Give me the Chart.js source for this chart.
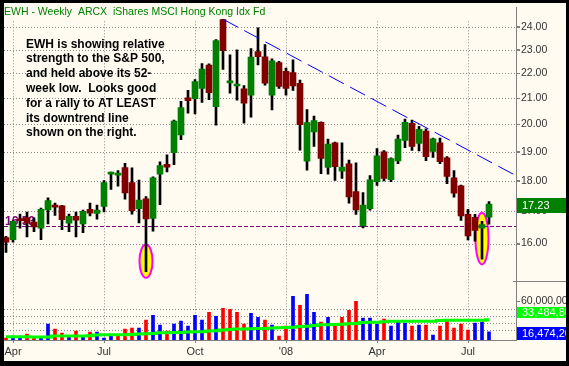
<!DOCTYPE html>
<html>
<head>
<meta charset="utf-8">
<script src="https://cdn.jsdelivr.net/npm/chart.js@4.4.0/dist/chart.umd.min.js"></script>
<style>
  html, body { margin: 0; padding: 0; background: #000; }
  #chart { display: block; }
</style>
</head>
<body>
<canvas id="chart" width="569" height="366"></canvas>
<script>
const FONT = 'Arial, "Liberation Sans", sans-serif';

// weekly bars, first week starts 2007-03-26
const opens = [16.18,16.12,16.77,16.80,16.66,16.47,17.04,17.20,17.17,16.62,
  16.84,16.60,17.06,16.93,17.15,18.22,18.19,18.45,17.94,17.08,
  17.40,16.77,18.22,18.56,18.97,19.61,21.02,20.99,21.39,22.35,
  20.67,24.33,21.61,21.49,21.38,21.12,22.92,22.70,21.12,22.45,
  22.09,22.04,21.60,18.67,19.72,20.08,18.45,19.32,18.32,18.58,
  17.64,16.54,17.08,17.97,19.00,18.03,18.68,19.41,20.04,19.30,
  19.75,19.01,19.32,18.79,18.10,17.83,16.90,16.81,16.47,16.81];
const highs = [16.22,16.70,16.91,16.97,16.79,17.10,17.43,17.26,17.19,16.91,
  16.97,17.04,17.26,17.20,18.00,18.29,18.34,18.59,18.44,18.02,
  17.47,18.13,18.65,18.89,20.16,20.88,21.32,21.75,22.41,22.40,
  23.44,24.35,22.78,22.99,21.51,23.05,23.96,23.22,22.61,22.50,
  22.22,22.57,21.73,20.56,20.31,20.10,19.46,19.35,19.32,18.71,
  18.61,17.60,18.17,19.11,19.04,18.79,19.60,20.20,20.16,19.93,
  19.83,19.49,19.49,18.83,18.34,17.85,17.06,16.90,16.68,17.31];
const lows = [15.74,16.04,16.47,16.20,16.36,16.12,16.60,16.87,16.42,16.36,
  16.20,16.33,16.85,16.75,16.98,17.71,17.82,17.39,16.91,16.63,
  15.18,16.38,17.21,18.30,18.55,19.44,20.42,20.40,20.84,20.95,
  19.97,22.17,21.20,20.93,20.05,20.27,22.35,21.52,20.55,21.39,
  21.12,21.31,19.06,18.36,19.19,18.24,18.22,18.01,18.08,17.26,
  16.90,16.48,17.03,17.84,17.99,17.97,18.58,19.15,19.05,19.03,
  18.69,18.80,18.58,17.90,17.45,16.71,16.11,16.07,15.54,16.59];
const closes = [16.04,16.68,16.70,16.62,16.51,17.06,17.34,17.13,16.73,16.84,
  16.72,17.00,16.94,17.04,17.94,18.29,18.26,17.59,17.02,17.36,
  16.76,18.10,18.52,18.46,20.12,20.64,20.91,21.67,22.18,21.22,
  23.40,22.96,21.70,21.56,20.81,22.68,22.70,21.60,22.53,21.47,
  21.39,21.49,19.99,20.07,20.14,18.77,19.28,18.48,18.46,17.46,
  17.04,17.20,18.03,18.86,18.08,18.76,19.46,20.08,19.19,19.82,
  18.83,19.47,18.65,18.14,17.58,16.85,16.23,16.40,16.58,17.23];
// volume in millions of shares
const volumes = [7.6,10.4,10.4,13.3,8.1,8.1,27.3,20.3,14.7,10.4,
  17.5,10.4,16.1,16.1,7.6,13.3,10.4,20.3,21.7,21.7,
  33.0,40.0,25.9,17.5,27.3,31.6,24.5,40.0,33.0,44.2,
  38.6,49.9,48.5,44.2,27.3,42.8,37.2,33.0,25.9,10.4,
  24.5,66.8,54.1,69.6,44.2,30.2,37.2,27.3,37.2,47.1,
  59.7,35.8,35.8,27.3,34.4,24.5,31.6,28.7,24.5,25.9,
  25.9,11.8,24.5,33.0,21.7,27.3,18.9,28.7,30.2,16.4742];
const volumeAvg = [9.5,9.5,9.5,9.5,9.0,9.0,9.0,10.4,10.4,10.4,
  10.4,10.4,10.9,11.8,12.3,12.3,12.3,12.3,12.8,13.3,
  13.7,14.2,15.1,15.1,15.6,15.6,16.1,16.5,16.5,17.5,
  17.9,18.9,19.8,20.3,20.3,20.8,21.2,21.2,21.7,22.2,
  22.6,23.1,24.0,24.5,25.5,26.4,26.4,26.9,27.3,27.8,
  28.3,29.7,30.2,30.2,30.6,31.6,31.6,31.6,31.6,31.6,
  31.6,31.6,32.5,33.0,33.0,33.0,33.0,33.0,33.0,33.4848];

const weeks = [];
for (let d = new Date(Date.UTC(2007, 2, 26)); weeks.length < closes.length; d.setUTCDate(d.getUTCDate() + 7)) {
  weeks.push(d.toISOString().slice(0, 10));
}
const tickWeeks = [1, 14, 27, 40, 53, 66];
const tickLabels = ['Apr', 'Jul', 'Oct', "'08", 'Apr', 'Jul'];
const priceTicks = [16, 17, 18, 19, 20, 21, 22, 23, 24];
const volumeGrid = [18.9, 28.9, 39.6, 49.4, 60];
const volumeLabelTick = 60;

const supportLevel = 16.53;
const trendAnchors = [{ week: 31, price: 24.35 }, { week: 58, price: 20.16 }];
const highlights = [{ week: 20, hi: 15.97, lo: 15.01 }, { week: 68, hi: 16.95, lo: 15.39 }];
const title = 'EWH - Weekly  ARCX  iShares MSCI Hong Kong Idx Fd';
const noteLines = [
  'EWH is showing relative',
  'strength to the S&P 500,',
  'and held above its 52-',
  'week low.  Looks good',
  'for a rally to AT LEAST',
  'its downtrend line',
  'shown on the right.'
];

const idx = closes.map((_, i) => i);
const upCandle = idx.map(i => closes[i] >= opens[i]);
const upVolume = idx.map(i => i === 0 ? upCandle[0] : closes[i] > closes[i - 1]);
const fmtShares = v => Math.round(v * 1e6).toLocaleString('en-US');

const GRID = '#8a8a8a';
const AXIS = '#808080';

const line = (ctx, x1, y1, x2, y2) => {
  ctx.beginPath();
  ctx.moveTo(x1, y1);
  ctx.lineTo(x2, y2);
  ctx.stroke();
};

const decor = {
  id: 'decor',
  beforeDraw(chart) {
    const { ctx, width, height } = chart;
    ctx.save();
    ctx.fillStyle = '#FFFBF0';
    ctx.fillRect(0, 0, width, height);
    ctx.restore();
  },
  beforeDatasetsDraw(chart) {
    const { ctx, chartArea: a, scales: { x, y, yv } } = chart;
    ctx.save();
    // dotted grid from the scales' ticks
    ctx.strokeStyle = GRID;
    ctx.lineWidth = 1;
    ctx.setLineDash([1, 2]);
    x.ticks.forEach(t => {
      const px = Math.round(x.getPixelForValue(t.value)) + 0.5;
      line(ctx, px, a.top + 14, px, a.bottom);
    });
    y.ticks.forEach(t => {
      const py = Math.round(y.getPixelForValue(t.value)) + 0.5;
      line(ctx, a.left, py, a.right, py);
    });
    yv.ticks.filter(t => t.value !== volumeLabelTick).forEach(t => {
      const py = Math.round(yv.getPixelForValue(t.value)) + 0.5;
      line(ctx, a.left, py, a.right, py);
    });
    ctx.setLineDash([]);
    // tick marks
    ctx.strokeStyle = AXIS;
    x.ticks.forEach(t => {
      const px = Math.round(x.getPixelForValue(t.value)) + 0.5;
      line(ctx, px, a.bottom, px, a.bottom + 3);
    });
    y.ticks.forEach(t => {
      const py = Math.round(y.getPixelForValue(t.value)) + 0.5;
      line(ctx, a.right, py, a.right + 4, py);
    });
    const vy = Math.round(yv.getPixelForValue(volumeLabelTick)) + 0.5;
    line(ctx, a.right, vy, a.right + 4, vy);

    // highlight ellipses behind the candles
    highlights.forEach(h => {
      const cx = x.getPixelForValue(h.week);
      const y1 = y.getPixelForValue(h.hi), y2 = y.getPixelForValue(h.lo);
      ctx.beginPath();
      ctx.ellipse(cx, (y1 + y2) / 2, 6.5, (y2 - y1) / 2, 0, 0, Math.PI * 2);
      ctx.fillStyle = '#FFFF00';
      ctx.fill();
      ctx.lineWidth = 2;
      ctx.strokeStyle = '#FF00FF';
      ctx.stroke();
    });
    // support line + label
    const sy = Math.round(y.getPixelForValue(supportLevel)) + 0.5;
    ctx.strokeStyle = '#800080';
    ctx.lineWidth = 1;
    ctx.setLineDash([4, 2]);
    line(ctx, a.left, sy, a.right, sy);
    ctx.setLineDash([]);
    ctx.fillStyle = '#800080';
    ctx.font = 'bold 12px ' + FONT;
    ctx.textBaseline = 'alphabetic';
    ctx.fillText(supportLevel.toFixed(2), a.left + 1, sy - 2);
    ctx.restore();
  },
  afterDatasetsDraw(chart) {
    const { ctx, chartArea: a, scales: { x, y } } = chart;
    const [p, q] = trendAnchors;
    const x1 = x.getPixelForValue(p.week), y1 = y.getPixelForValue(p.price);
    const x2 = x.getPixelForValue(q.week), y2 = y.getPixelForValue(q.price);
    const slope = (y2 - y1) / (x2 - x1);
    ctx.save();
    ctx.beginPath();
    ctx.rect(a.left, a.top, a.right - a.left, a.bottom - a.top);
    ctx.clip();
    ctx.strokeStyle = '#0000FF';
    ctx.lineWidth = 1;
    ctx.setLineDash([17, 7]);
    line(ctx, x1, y1, a.right, y1 + slope * (a.right - x1));
    ctx.restore();
  },
  afterDraw(chart) {
    const { ctx, chartArea: a, scales: { y, yv }, width, height } = chart;
    ctx.save();
    ctx.textBaseline = 'alphabetic';
    // title
    ctx.fillStyle = '#008000';
    ctx.font = '10.5px ' + FONT;
    ctx.fillText(title, 4, 14.5);
    // note
    ctx.fillStyle = '#000';
    ctx.font = 'bold 12px ' + FONT;
    noteLines.forEach((t, k) => ctx.fillText(t, 26, 47.5 + k * 14.8));

    // pane separator in the label column
    ctx.strokeStyle = AXIS;
    ctx.lineWidth = 1;
    line(ctx, a.right - 3, Math.round(y.bottom) + 0.5, width, Math.round(y.bottom) + 0.5);

    // last value boxes
    const box = (cy, h, bg, txt) => {
      ctx.fillStyle = bg;
      ctx.fillRect(a.right + 1, Math.round(cy - h / 2), width - a.right, h);
      ctx.fillStyle = '#FFFFFF';
      ctx.font = '11px ' + FONT;
      ctx.textBaseline = 'middle';
      ctx.fillText(txt, a.right + 6, cy + 0.5);
    };
    const last = closes.length - 1;
    box(y.getPixelForValue(closes[last]) + 1.5, 15, '#008000', closes[last].toFixed(2));
    box(yv.getPixelForValue(volumeAvg[last]) - 7, 11, '#00FF00', fmtShares(volumeAvg[last]));
    box(Math.min(yv.getPixelForValue(volumes[last]) + 2, a.bottom - 6.5), 13, '#0000FF', fmtShares(volumes[last]));

    // black frame
    ctx.fillStyle = '#000';
    ctx.fillRect(0, 0, width, 3);
    ctx.fillRect(0, 0, 4, height);
    ctx.fillRect(width - 3, 0, 3, height);
    ctx.fillRect(0, height - 5, width, 5);
    ctx.restore();
  }
};

new Chart(document.getElementById('chart'), {
  type: 'bar',
  data: {
    datasets: [
      {
        label: 'Range',
        data: idx.map(i => ({ x: i, y: [lows[i], highs[i]] })),
        backgroundColor: '#000000',
        barThickness: 2,
        grouped: false,
        yAxisID: 'y',
        order: 3
      },
      {
        label: 'Body',
        data: idx.map(i => ({ x: i, y: [opens[i], closes[i]] })),
        backgroundColor: upCandle.map(u => u ? '#008000' : '#800000'),
        barThickness: 6,
        minBarLength: 2,
        grouped: false,
        yAxisID: 'y',
        order: 2
      },
      {
        label: 'Volume',
        data: idx.map(i => ({ x: i, y: volumes[i] })),
        backgroundColor: upVolume.map(u => u ? '#0000FF' : '#FF0000'),
        barThickness: 3,
        grouped: false,
        yAxisID: 'yv',
        order: 2
      },
      {
        type: 'line',
        label: 'Volume avg',
        data: idx.map(i => ({ x: i, y: volumeAvg[i] })),
        borderColor: '#00FF00',
        borderWidth: 3,
        pointRadius: 0,
        stepped: 'middle',
        yAxisID: 'yv',
        order: 1
      }
    ]
  },
  options: {
    responsive: false,
    animation: false,
    devicePixelRatio: 1,
    layout: { padding: { left: 4, top: 4, right: 3, bottom: 6 } },
    plugins: { legend: { display: false }, tooltip: { enabled: false }, title: { display: false } },
    scales: {
      x: {
        type: 'linear',
        min: -2 / 7,
        max: -2 / 7 + 512 / 7,
        offset: false,
        afterBuildTicks: s => { s.ticks = tickWeeks.map(v => ({ value: v })); },
        afterFit: s => { s.height = 20; },
        ticks: {
          autoSkip: false, maxRotation: 0, padding: 2, color: '#333',
          font: { family: FONT, size: 11 },
          callback: v => tickLabels[tickWeeks.indexOf(v)] || ''
        },
        grid: { drawOnChartArea: false, color: AXIS, tickColor: AXIS, tickLength: 3, offset: false },
        border: { color: AXIS }
      },
      y: {
        type: 'logarithmic',
        position: 'right',
        stack: 'panes',
        stackWeight: 276,
        min: 14.93,
        max: 24.9,
        afterBuildTicks: s => { s.ticks = priceTicks.map(v => ({ value: v })); },
        afterFit: s => { s.width = 50; },
        ticks: {
          autoSkip: false, padding: 1, color: '#333', font: { family: FONT, size: 10.5 },
          callback: v => Number(v).toFixed(2)
        },
        grid: { drawOnChartArea: false, color: AXIS, tickColor: AXIS, tickLength: 4 },
        border: { color: AXIS }
      },
      yv: {
        type: 'linear',
        position: 'right',
        stack: 'panes',
        stackWeight: 60,
        min: 4.8,
        max: 89.3,
        afterBuildTicks: s => { s.ticks = volumeGrid.map(v => ({ value: v })); },
        afterFit: s => { s.width = 50; },
        ticks: {
          autoSkip: false, padding: 1, color: '#333', font: { family: FONT, size: 10.5 },
          callback: v => v === volumeLabelTick ? fmtShares(v) : ''
        },
        grid: { drawOnChartArea: false, color: 'rgba(0,0,0,0)', tickColor: 'rgba(0,0,0,0)', tickLength: 4 },
        border: { color: AXIS }
      }
    }
  },
  plugins: [decor]
});
</script>
</body>
</html>
